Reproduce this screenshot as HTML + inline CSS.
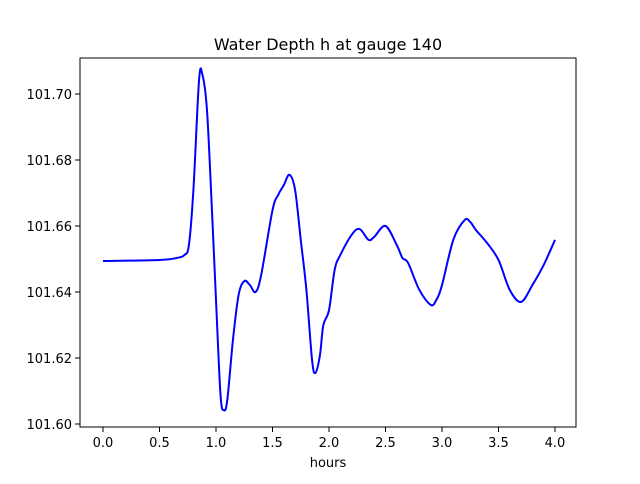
<!DOCTYPE html>
<html><head><meta charset="utf-8"><style>
body{margin:0;background:#fff;font-family:"DejaVu Sans","Liberation Sans",sans-serif;}
</style></head><body>
<svg id="chart" width="640" height="480" xmlns="http://www.w3.org/2000/svg" style="font-family:'DejaVu Sans','Liberation Sans',sans-serif">
<rect width="640" height="480" fill="#fff"/>
<text x="328" y="50" text-anchor="middle" font-size="16">Water Depth h at gauge 140</text>
<g id="ticks"></g>
<path id="line" fill="none" stroke="#0000ff" stroke-width="2"/>
<rect x="80" y="58" width="496" height="369" fill="none" stroke="#000" stroke-width="1"/>
<text x="328" y="467" text-anchor="middle" font-size="13">hours</text>
</svg>
<script>
const hours=[0,0.5,0.65,0.72,0.76,0.8,0.85,0.88,0.92,0.96,1.0,1.04,1.07,1.1,1.15,1.2,1.25,1.3,1.35,1.4,1.5,1.55,1.6,1.65,1.7,1.75,1.8,1.85,1.88,1.92,1.95,2.0,2.05,2.1,2.2,2.27,2.35,2.4,2.5,2.6,2.65,2.7,2.8,2.9,2.95,3.0,3.1,3.2,3.25,3.3,3.4,3.5,3.6,3.7,3.8,3.9,4.0];
const depth=[101.6494,101.6497,101.6503,101.6512,101.6542,101.6709,101.7042,101.7058,101.6952,101.6679,101.6376,101.6088,101.6042,101.6073,101.6255,101.6391,101.6433,101.6421,101.6400,101.6452,101.6648,101.6694,101.6724,101.6755,101.6709,101.6558,101.6406,101.6194,101.6155,101.6209,101.6300,101.6345,101.6467,101.6512,101.6573,101.6591,101.6558,101.6567,101.6600,101.6542,101.6503,101.6488,101.6406,101.6361,101.6376,101.6421,101.6558,101.6618,101.6612,101.6588,101.6548,101.6497,101.6406,101.6370,101.6421,101.6482,101.6558];
const xTicks=[0,0.5,1,1.5,2,2.5,3,3.5,4];
const yTicks=[101.60,101.62,101.64,101.66,101.68,101.70];
const X=v=>103+v*113;
const Y=v=>424-(v-101.60)*3300;
const NS="http://www.w3.org/2000/svg";
const g=document.getElementById('ticks');
function mk(t,a){const e=document.createElementNS(NS,t);for(const k in a)e.setAttribute(k,a[k]);g.appendChild(e);return e;}
xTicks.forEach(t=>{
 const l=mk('line',{x1:X(t),x2:X(t),y1:427,y2:432,stroke:'#000'});
 
 
 const tx=mk('text',{x:X(t),y:447,'text-anchor':'middle','font-size':'13'});
 
 
 tx.textContent=t.toFixed(1);
});
yTicks.forEach(t=>{
 const l=mk('line',{x1:75,x2:80,y1:Y(t),y2:Y(t),stroke:'#000'});
 
 
 const tx=mk('text',{x:72,y:Y(t)+5,'text-anchor':'end','font-size':'13'});
 
 
 tx.textContent=t.toFixed(2);
});
const P=hours.map((h,i)=>[X(h),Y(depth[i])]);
let d='M'+P[0][0]+','+P[0][1];
for(let i=0;i<P.length-1;i++){
 const p0=P[Math.max(0,i-1)],p1=P[i],p2=P[i+1],p3=P[Math.min(P.length-1,i+2)];
 const c1=[p1[0]+(p2[0]-p0[0])/6,p1[1]+(p2[1]-p0[1])/6];
 const c2=[p2[0]-(p3[0]-p1[0])/6,p2[1]-(p3[1]-p1[1])/6];
 d+=' C'+c1[0]+','+c1[1]+' '+c2[0]+','+c2[1]+' '+p2[0]+','+p2[1];
}
document.getElementById('line').setAttribute('d',d);
</script>
</body></html>
